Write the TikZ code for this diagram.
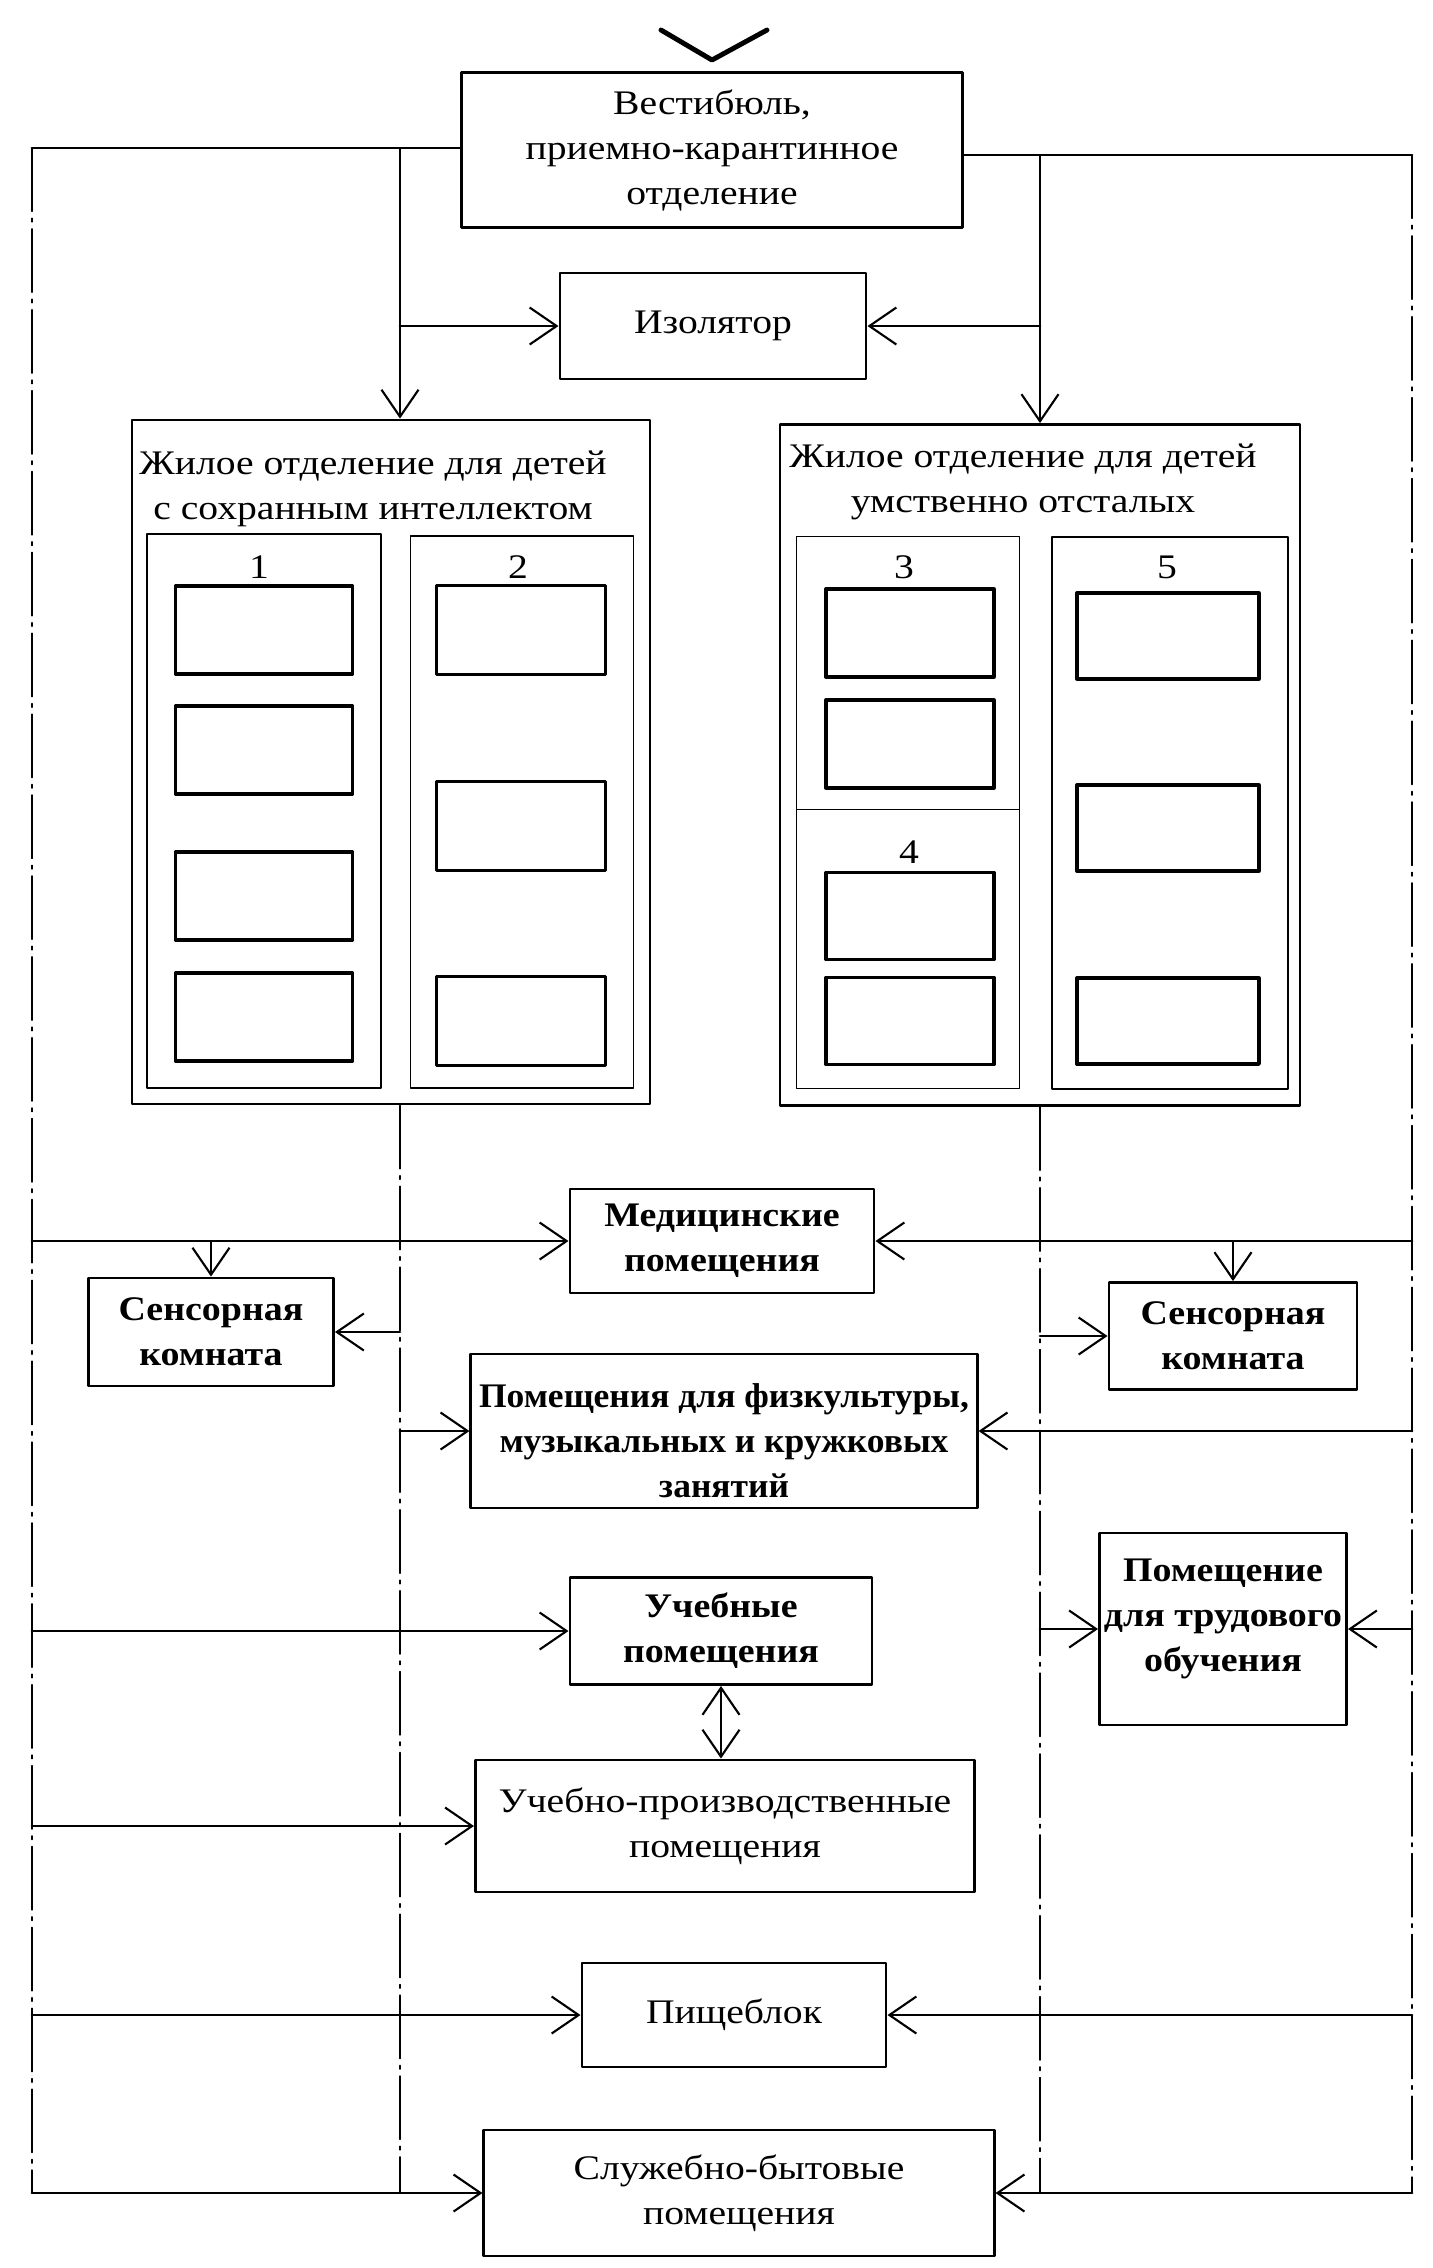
\documentclass[tikz,border=0pt]{standalone}
\usepackage{fontspec}
\setmainfont{Liberation Serif}[FakeStretch=1.15]
\newfontfamily\bfam{Liberation Serif}[FakeStretch=1.1]
\newfontfamily\fizfam{Liberation Serif}[FakeStretch=1.03]
\usetikzlibrary{arrows.meta}

\tikzset{
  barb/.tip={Straight Barb[length=2.7mm,width=3.7mm,line width=0.6pt]},
  txt/.style={font=\fontsize{9.8}{12.8}\selectfont},
  box/.style={draw,line width=0.8pt,inner sep=0pt,align=center,txt},
  bbox/.style={box,font=\fontsize{9.8}{12.8}\selectfont\bfam\bfseries},
  room/.style={draw,line width=0.9pt,inner sep=0pt},
  sect/.style={draw,line width=0.5pt,inner sep=0pt},
  lbl/.style={inner sep=0pt,align=center,txt},
  conn/.style={line width=0.8pt,-barb},
  drop/.style={line width=0.5pt,-barb},
  feed/.style={line width=0.45pt,dash pattern=on 18pt off 2pt on 1pt off 2pt}
}

\begin{document}
\begin{tikzpicture}[line cap=round,line join=round,x=0.01cm,y=-0.01cm]
\useasboundingbox (0,0) rectangle (1433,2268);
% entrance
\coordinate (entry) at (712,60);
\draw [line width=1.4pt] (661,30) -- (entry) -- (767,30);

\node[box,minimum width=5.00cm,minimum height=1.55cm] (vest) at (712,150) {Вестибюль,\\ приемно-карантинное\\ отделение};
\node[box,minimum width=3.06cm,minimum height=1.06cm] (izol) at (713,326) {Изолятор};

% living unit, left
\node[sect,line width=0.7pt,minimum width=5.18cm,minimum height=6.84cm] (zhl) at (391,762) {};
\node[lbl] (zhlt) at (373,489) {Жилое отделение для детей\\ с сохранным интеллектом};
\node[sect,minimum width=2.34cm,minimum height=5.54cm] (s1) at (264,811) {};
\node[sect,minimum width=2.23cm,minimum height=5.52cm] (s2) at (522,812) {};
\node[lbl] (n1) at (259,567) {1};
\node[lbl] (n2) at (518,567) {2};
\foreach \y [count=\i] in {630,750,896,1017}
  \node[room,minimum width=1.77cm,minimum height=0.88cm] (ra\i) at (264,\y) {};
\foreach \y [count=\i] in {630,826,1021}
  \node[room,minimum width=1.69cm,minimum height=0.89cm] (rb\i) at (521,\y) {};

% living unit, right
\node[sect,line width=0.7pt,minimum width=5.20cm,minimum height=6.81cm] (zhr) at (1040,765) {};
\node[lbl] (zhrt) at (1023,482) {Жилое отделение для детей\\ умственно отсталых};
\node[sect,minimum width=2.23cm,minimum height=2.73cm] (s3) at (908,673) {};
\node[sect,minimum width=2.23cm,minimum height=2.79cm] (s4) at (908,949) {};
\node[sect,minimum width=2.36cm,minimum height=5.52cm] (s5) at (1170,813) {};
\node[lbl] (n3) at (904,567) {3};
\node[lbl] (n4) at (909,852) {4};
\node[lbl] (n5) at (1167,567) {5};
\foreach \y [count=\i] in {633,744}
  \node[room,minimum width=1.68cm,minimum height=0.88cm] (rc\i) at (910,\y) {};
\foreach \y [count=\i] in {916,1021}
  \node[room,minimum width=1.68cm,minimum height=0.87cm] (rd\i) at (910,\y) {};
\foreach \y [count=\i] in {636,828,1021}
  \node[room,minimum width=1.82cm,minimum height=0.86cm] (re\i) at (1168,\y) {};

% service rooms
\node[bbox,minimum width=3.04cm,minimum height=1.04cm] (med) at (722,1241) {Медицинские\\ помещения};
\node[bbox,minimum width=2.45cm,minimum height=1.08cm] (sensL) at (211,1332) {Сенсорная\\ комната};
\node[bbox,minimum width=2.48cm,minimum height=1.07cm] (sensR) at (1233,1336) {Сенсорная\\ комната};
\node[box,minimum width=5.06cm,minimum height=1.54cm] (fiz) at (724,1431) {};
\node[lbl,font=\fontsize{9.8}{12.8}\selectfont\fizfam\bfseries] (fizt) at (724,1441) {Помещения для физкультуры,\\ музыкальных и кружковых\\ занятий};
\node[bbox,minimum width=3.02cm,minimum height=1.07cm] (ucheb) at (721,1631) {Учебные\\ помещения};
\node[box,minimum width=2.47cm,minimum height=1.92cm] (trud) at (1223,1629) {};
\node[lbl,font=\fontsize{9.8}{12.8}\selectfont\bfam\bfseries] (trudt) at (1223,1619) {Помещение\\ для трудового\\ обучения};
\node[box,minimum width=4.99cm,minimum height=1.32cm] (uchprod) at (725,1826) {Учебно-производственные\\ помещения};
\node[box,minimum width=3.04cm,minimum height=1.04cm] (pisch) at (734,2015) {Пищеблок};
\node[box,minimum width=5.10cm,minimum height=1.26cm] (sluzh) at (739,2193) {Служебно-бытовые\\ помещения};

% main lines
\coordinate (lo) at (32,148);
\coordinate (li) at (400,148);
\coordinate (ro) at (1412,155);
\coordinate (ri) at (1040,155);
\draw [line width=0.8pt] (vest.west |- lo) -- (lo);
\draw [line width=0.8pt] (vest.east |- ro) -- (ro);
\draw [feed] (lo) -- (lo |- sluzh.west);
\draw [feed] (ro) -- (ro |- sluzh.east);
\draw [drop] (li) -- (li |- zhl.north);
\draw [drop] (ri) -- (ri |- zhr.north);
\draw [feed] (li |- zhl.south) -- (li |- sluzh.west);
\draw [feed] (ri |- zhr.south) -- (ri |- sluzh.east);

\draw [conn] (li |- izol.west) -- (izol.west);
\draw [conn] (ri |- izol.east) -- (izol.east);
\draw [conn] (lo |- med.west) -- (med.west);
\draw [conn] (ro |- med.east) -- (med.east);
\draw [drop] (sensL.north |- med.west) -- (sensL.north);
\draw [drop] (sensR.north |- med.east) -- (sensR.north);
\draw [conn] (li |- sensL.east) -- (sensL.east);
\draw [conn] (ri |- sensR.west) -- (sensR.west);
\draw [conn] (li |- fiz.west) -- (fiz.west);
\draw [conn] (ro |- fiz.east) -- (fiz.east);
\draw [conn] (lo |- ucheb.west) -- (ucheb.west);
\draw [conn] (ri |- trud.west) -- (trud.west);
\draw [conn] (ro |- trud.east) -- (trud.east);
\draw [line width=0.5pt,barb-barb] (ucheb.south) -- (ucheb.south |- uchprod.north);
\draw [conn] (lo |- uchprod.west) -- (uchprod.west);
\draw [conn] (lo |- pisch.west) -- (pisch.west);
\draw [conn] (ro |- pisch.east) -- (pisch.east);
\draw [conn] (lo |- sluzh.west) -- (sluzh.west);
\draw [conn] (ro |- sluzh.east) -- (sluzh.east);
\end{tikzpicture}
\end{document}
